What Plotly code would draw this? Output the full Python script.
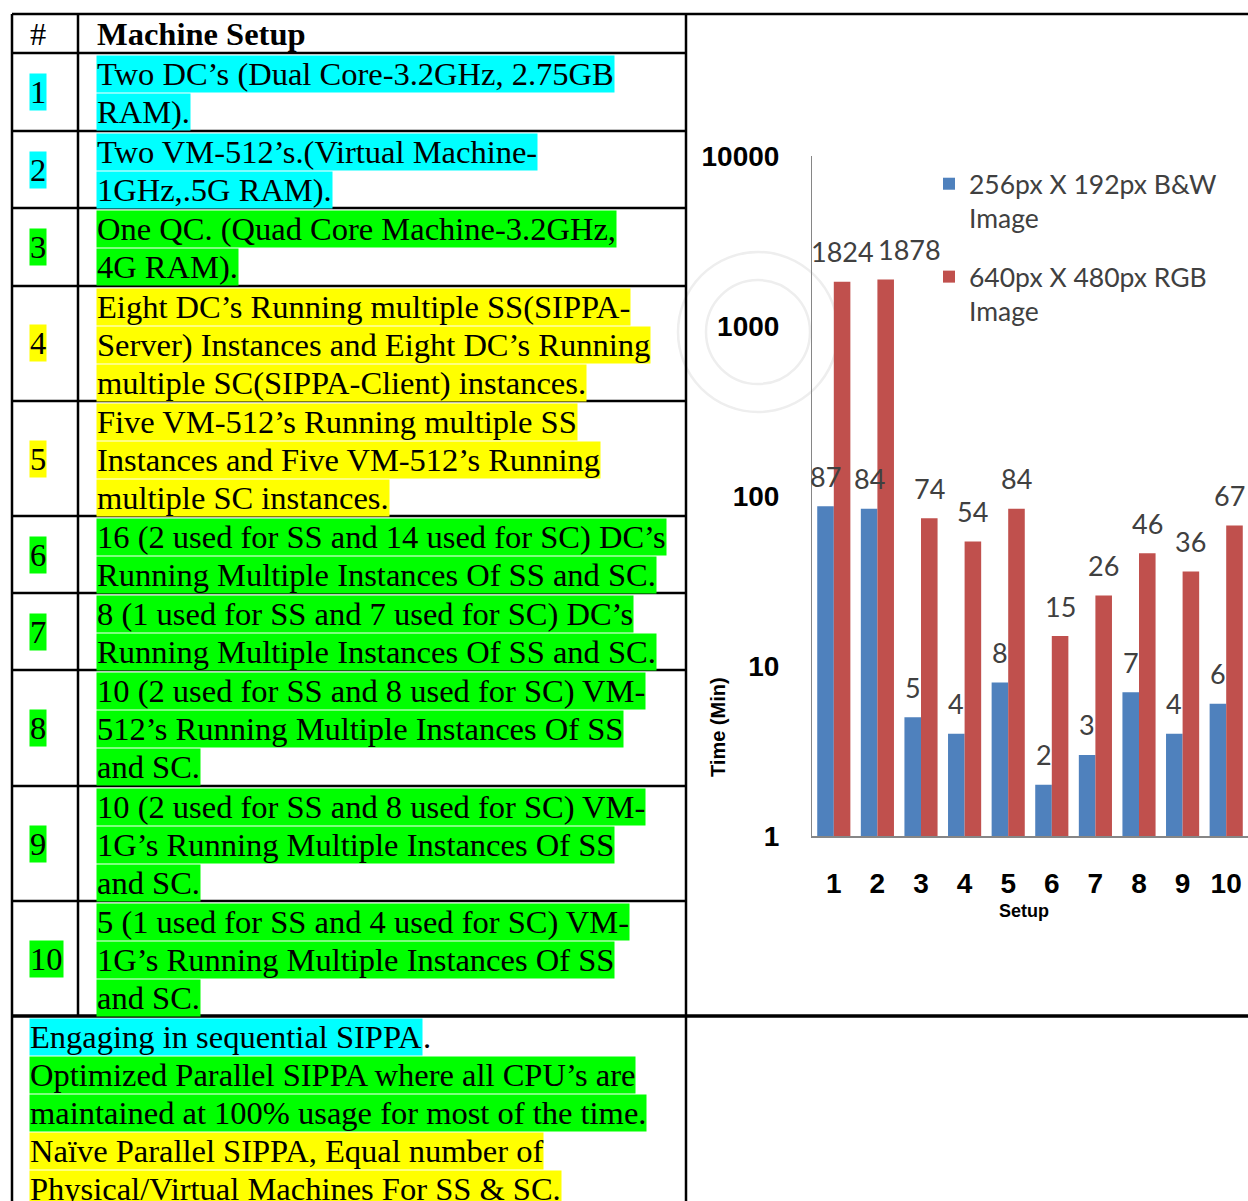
import math
import plotly.graph_objects as go

W, H = 1248, 1201

# ---- chart data -------------------------------------------------------------
setups = list(range(1, 11))
setup_labels = [str(s) for s in setups]
bw_minutes = [87, 84, 5, 4, 8, 2, 3, 7, 4, 6]
rgb_minutes = [1824, 1878, 74, 54, 84, 15, 26, 46, 36, 67]
series_names = ["256px X 192px B&W<br>Image", "640px X 480px RGB<br>Image"]
y_ticks = [1, 10, 100, 1000, 10000]
y_tick_labels = ["1", "10", "100", "1000", "10000"]

# ---- table data -------------------------------------------------------------
header = ["#", "Machine Setup"]
row_numbers = [str(i) for i in range(1, 11)]
row_text = [
    ["Two DC’s (Dual Core-3.2GHz, 2.75GB", "RAM)."],
    ["Two VM-512’s.(Virtual Machine-", "1GHz,.5G RAM)."],
    ["One QC. (Quad Core Machine-3.2GHz,", "4G RAM)."],
    ["Eight DC’s Running multiple SS(SIPPA-", "Server) Instances and Eight DC’s Running",
     "multiple SC(SIPPA-Client) instances."],
    ["Five VM-512’s Running multiple SS", "Instances and Five VM-512’s Running",
     "multiple SC instances."],
    ["16 (2 used for SS and 14 used for SC) DC’s", "Running Multiple Instances Of SS and SC."],
    ["8 (1 used for SS and 7 used for SC) DC’s", "Running Multiple Instances Of SS and SC."],
    ["10 (2 used for SS and 8 used for SC) VM-", "512’s Running Multiple Instances Of SS", "and SC."],
    ["10 (2 used for SS and 8 used for SC) VM-", "1G’s Running Multiple Instances Of SS", "and SC."],
    ["5 (1 used for SS and 4 used for SC) VM-", "1G’s Running Multiple Instances Of SS", "and SC."],
]
row_kind = ["seq", "seq", "opt", "naive", "naive", "opt", "opt", "opt", "opt", "opt"]
# (highlighted part, trailing plain text, highlight kind)
key_text = [
    ("Engaging in sequential SIPPA", ".", "seq"),
    ("Optimized Parallel SIPPA where all CPU’s are", "", "opt"),
    ("maintained at 100% usage for most of the time.", "", "opt"),
    ("Naïve Parallel SIPPA, Equal number of", "", "naive"),
    ("Physical/Virtual Machines For SS & SC.", "", "naive"),
]

# ---- styling ----------------------------------------------------------------
HILITE = {"seq": "#00FFFF", "opt": "#00FF00", "naive": "#FFFF00"}
BLUE, RED = "#4F81BD", "#C0504D"
SERIF = "Liberation Serif"
SANS = "Liberation Sans"
LABEL_FONT = "Lato"
LABEL_COLOR = "#404040"
TXT = 32.5
LINE_H = 38
# horizontal nudges (px) for value labels that sit off their bar
label_nudge = {("rgb", 2): 24, ("rgb", 10): -5}
# where the plain trailing text of a key line starts (px)
TAIL_X = 422

# row boundaries of the table (pixels from top)
row_edges = [53, 131, 208, 286, 401, 516, 593, 670, 786, 901, 1016]
TABLE_TOP, TABLE_LEFT, COL_SPLIT, TABLE_RIGHT = 14, 12, 78, 686


def px(x):
    return x / W


def py(y):
    return 1 - y / H


fig = go.Figure()

# ---- bars -------------------------------------------------------------------
bar_w = 0.38
fig.add_bar(x=setups, y=bw_minutes, width=bar_w, offset=-bar_w,
            marker=dict(color=BLUE, line=dict(width=0)), name=series_names[0],
            legendgroup="a")
fig.add_bar(x=setups, y=rgb_minutes, width=bar_w, offset=0,
            marker=dict(color=RED, line=dict(width=0)), name=series_names[1],
            legendgroup="b")

annotations = []
# value labels above each bar
for key, values, side in (("bw", bw_minutes, -1), ("rgb", rgb_minutes, 1)):
    for s, v in zip(setups, values):
        annotations.append(dict(x=s + side * bar_w / 2, y=math.log10(v), xref="x", yref="y",
                                text=str(v), showarrow=False, xanchor="center",
                                yanchor="middle", yshift=30,
                                xshift=label_nudge.get((key, s), 0),
                                font=dict(family=LABEL_FONT, size=27, color=LABEL_COLOR)))

# axis titles
annotations.append(dict(x=px(718), y=py(727), xref="paper", yref="paper", text="<b>Time (Min)</b>",
                        textangle=-90, showarrow=False, xanchor="center", yanchor="middle",
                        font=dict(family=SANS, size=20, color="black")))
annotations.append(dict(x=px(1024), y=py(911), xref="paper", yref="paper", text="<b>Setup</b>",
                        showarrow=False, xanchor="center", yanchor="middle",
                        font=dict(family=SANS, size=18, color="black")))

# ---- table text -------------------------------------------------------------
def cell_text(x, y, text, bg=None, bold=False, anchor="left"):
    annotations.append(dict(x=px(x), y=py(y), xref="paper", yref="paper",
                            text="<b>%s</b>" % text if bold else text,
                            xanchor=anchor, yanchor="middle", showarrow=False,
                            bgcolor=bg or "rgba(0,0,0,0)", borderpad=0,
                            font=dict(family=SERIF, size=TXT, color="black")))


cell_text(38, 34, header[0], anchor="center")
cell_text(96, 34, header[1], bold=True)

for i, (num, lines, kind) in enumerate(zip(row_numbers, row_text, row_kind)):
    top, bottom = row_edges[i], row_edges[i + 1]
    cell_text(29, (top + bottom) / 2, num, bg=HILITE[kind])
    for j, line in enumerate(lines):
        cell_text(96, top + 21 + LINE_H * j, line, bg=HILITE[kind])

for j, (marked, tail, kind) in enumerate(key_text):
    y = 1037 + LINE_H * j
    cell_text(29, y, marked, bg=HILITE[kind])
    if tail:
        cell_text(TAIL_X, y, tail)

# ---- table rules ------------------------------------------------------------
shapes = []


def rule(x0, y0, x1, y1, w=2.5):
    shapes.append(dict(type="line", xref="paper", yref="paper",
                       x0=px(x0), y0=py(y0), x1=px(x1), y1=py(y1),
                       line=dict(color="black", width=w)))


rule(TABLE_LEFT, TABLE_TOP, W, TABLE_TOP)
rule(TABLE_LEFT, TABLE_TOP, TABLE_LEFT, H)
rule(COL_SPLIT, TABLE_TOP, COL_SPLIT, row_edges[-1])
rule(TABLE_RIGHT, TABLE_TOP, TABLE_RIGHT, H)
for y in row_edges[:-1]:
    rule(TABLE_LEFT, y, TABLE_RIGHT, y)
rule(TABLE_LEFT, row_edges[-1], W, row_edges[-1], w=3.5)

# faint publisher watermark rings behind the chart
for r in (52, 80):
    shapes.append(dict(type="circle", xref="paper", yref="paper", layer="below",
                       x0=px(758 - r), x1=px(758 + r), y0=py(332 + r), y1=py(332 - r),
                       line=dict(color="#EEEEEE", width=2.5)))

fig.update_layout(
    width=W, height=H,
    margin=dict(l=0, r=0, t=0, b=0, autoexpand=False),
    paper_bgcolor="white", plot_bgcolor="rgba(0,0,0,0)",
    barmode="overlay",
    showlegend=True,
    legend=dict(x=px(929), y=py(160), xanchor="left", yanchor="top",
                font=dict(family=LABEL_FONT, size=26.5, color=LABEL_COLOR),
                valign="top", tracegroupgap=21, bgcolor="rgba(0,0,0,0)"),
    xaxis=dict(domain=[px(812), 1.0], range=[0.5, 10.5], tickvals=setups, ticktext=setup_labels,
               showline=True, linecolor="#868686", linewidth=2, ticks="", showgrid=False,
               zeroline=False, ticklabelstandoff=21, automargin=False,
               tickfont=dict(family=SANS, size=28, color="black", weight="bold")),
    yaxis=dict(domain=[py(836), py(156)], type="log", range=[0, 4], tickvals=y_ticks,
               ticktext=y_tick_labels, showline=True, linecolor="#868686", linewidth=1,
               ticks="", showgrid=False, zeroline=False, ticklabelstandoff=26, automargin=False,
               tickfont=dict(family=SANS, size=28, color="black", weight="bold")),
    annotations=annotations,
    shapes=shapes,
)

fig.write_html("out.html")
